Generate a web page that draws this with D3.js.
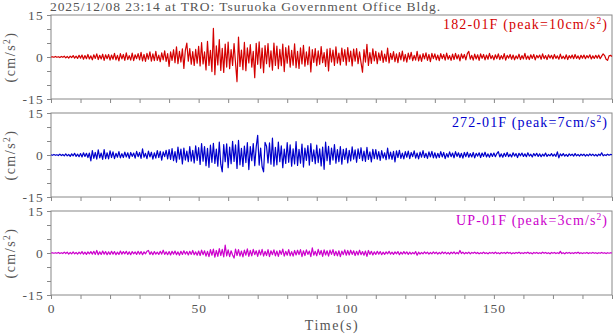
<!DOCTYPE html>
<html>
<head>
<meta charset="utf-8">
<script src="https://cdn.jsdelivr.net/npm/d3@7"></script>
<style>
  body { margin: 0; background: #fff; }
  text { font-family: "Liberation Serif", "DejaVu Serif", serif; }
</style>
</head>
<body>
<div id="chart"></div>
<script>
// acceleration (cm/s^2), one sample every 0.5 s from 0 to 190 s
const ns182 = [
  0.0, 0.1, -0.1, 0.2, -0.1, 0.1, -0.2, 0.2, -0.1, 0.3, -0.3, 0.2, -0.4, 0.3, -0.2, 0.5, -0.4, 0.3, -0.5, 0.6,
  -0.4, 0.7, -0.8, 0.5, -0.6, 0.9, -0.7, 0.4, -1.0, 0.8, -0.5, 1.1, -0.9, 0.6, -0.7, 1.0, -1.2, 0.8, -0.6, 0.9,
  -1.1, 0.7, -0.8, 1.3, -1.0, 0.6, -1.4, 1.2, -0.7, 0.9, -1.2, 1.5, -0.9, 0.5, -1.1, 1.4, -1.3, 0.8, -0.6, 1.2,
  -1.0, 1.7, -1.4, 0.9, -1.6, 1.3, -0.8, 1.8, -1.5, 1.1, -1.3, 2.0, -1.2, 0.7, -1.7, 1.5, -1.0, 2.2, -1.6, 1.2,
  -3.4, 1.8, -1.2, 2.6, -2.0, 3.6, -2.4, 2.0, -1.8, 2.9, -4.1, 2.4, 5.0, -1.5, 3.0, -2.6, 1.9, -3.0, 2.7, -2.2,
  3.8, -3.2, 5.1, -2.5, 1.8, -4.6, 5.6, -3.0, 2.4, -5.2, 10.2, -6.3, 4.0, -2.8, 6.2, -4.8, 3.1, -5.5, 4.6, -3.6,
  5.3, -4.2, 2.6, -3.0, 4.8, -2.2, -8.8, 7.1, -3.4, 2.5, -4.5, 5.2, -4.9, 3.3, -2.1, 4.4, -3.6, 2.0, -7.4, 4.9,
  -2.6, 5.4, -4.0, 3.2, -5.6, 4.1, -2.4, 4.8, -3.5, 2.2, -4.7, 5.0, -3.0, 3.9, -4.2, 2.7, -3.1, 4.6, -5.2, 3.4,
  -2.2, 4.0, -3.6, 2.4, -2.9, 4.7, -3.8, 2.0, -4.1, 3.3, -2.5, 4.2, -3.3, 1.8, -2.7, 3.6, -5.3, 2.6, -1.9, 3.0,
  -3.1, 2.2, -2.6, 3.7, -2.0, 1.6, -3.4, 2.8, -5.0, 3.1, -1.8, 2.5, -3.0, 3.6, -2.2, 1.4, -2.8, 3.2, -1.6, 2.6,
  -2.9, 3.4, -1.7, 2.1, -3.2, 2.8, -1.5, 3.0, -2.4, 1.8, -2.0, -5.4, 2.6, -1.8, 4.5, -3.0, 1.6, -2.3, 2.9, -1.4,
  2.0, -2.4, 1.5, -1.2, 2.2, -1.9, 1.0, -1.6, 3.2, -2.1, 1.3, -0.9, 1.9, -1.7, 1.1, -2.0, 1.6, -1.0, 2.1, -1.5,
  0.9, -1.8, 1.4, -0.8, 1.7, -1.3, 0.6, -1.1, 2.0, -1.4, 0.8, -1.6, 1.2, -0.7, 1.5, -1.2, 0.9, -1.7, 1.3, -0.6,
  1.1, -1.0, 0.7, -1.3, 1.2, -0.6, 0.9, -1.1, 1.4, -0.8, 0.5, -1.2, 1.0, -0.9, 1.3, -0.7, 0.8, -1.4, 1.1, -0.5,
  0.9, -1.0, 1.2, 2.0, -0.8, 0.6, -1.1, 1.0, -0.7, 0.8, -1.2, 1.1, -0.5, 0.9, -1.0, 0.7, -0.8, 1.3, -0.6, 0.5,
  -1.0, 0.8, -0.6, 1.1, -0.9, 0.5, -0.7, 1.2, -1.1, 0.6, -0.4, 0.9, -0.8, 0.7, -1.0, 0.4, -0.6, 1.0, -0.9, 0.5,
  -0.7, 1.3, -0.8, 0.4, -0.9, 0.8, -0.5, 0.9, -1.0, 0.6, -0.3, 0.7, -0.8, 1.1, -0.6, 0.5, -0.9, 0.8, -0.4, 0.6,
  -0.7, 0.9, -0.5, 0.4, -0.8, 1.0, -0.6, 0.3, -0.7, 0.8, -0.9, 0.5, -0.4, 0.7, -0.6, 0.9, -0.5, 0.4, -0.8, 0.6,
  -0.4, 0.7, -0.6, 0.5, -0.3, 0.8, -0.7, 0.4, -0.5, 0.6, -0.4, 0.7, -0.6, 0.3, 1.1, 0.5, -0.8, -1.2, 0.4, 0.6,
  0.2
];
const ew272 = [
  0.1, -0.1, 0.2, -0.1, 0.1, -0.2, 0.3, -0.2, 0.2, -0.3, 0.4, -0.3, 0.2, -0.5, 0.4, -0.3, 0.6, -0.5, 0.3, -0.6,
  0.5, -0.7, 0.8, -0.5, 0.6, -0.9, 0.7, -2.1, 1.6, -1.2, 0.9, -1.5, 1.8, -1.0, 0.7, -1.6, 1.9, -1.3, 0.8, -1.4,
  1.5, -0.9, 1.1, -1.3, 0.6, -0.8, 1.2, -1.0, 0.5, -0.9, 1.0, -0.7, 0.8, -1.2, 0.9, -0.5, 0.7, -1.1, 1.3, -0.6,
  0.9, -1.2, 2.2, -0.8, 0.6, -1.3, 1.4, -0.7, 1.0, -1.5, 0.8, -1.1, 1.6, -0.9, 1.3, -1.8, 1.1, -0.6, 1.7, -1.4,
  1.9, -1.6, 2.3, -2.0, 1.2, -2.6, 2.8, -1.5, 2.1, -3.2, 2.5, -1.8, 1.4, -2.4, 3.0, -2.2, 1.7, -2.8, 3.3, -1.9,
  2.6, -3.4, 4.1, -2.2, 3.0, -3.8, 2.4, -4.4, 3.5, -2.6, 4.2, -3.0, 2.1, -4.0, 4.6, -3.3, -6.0, 3.7, -2.4, 4.0,
  -4.5, 2.8, -3.1, 4.9, -2.3, 3.6, -4.8, 5.2, -3.5, 2.4, -4.1, 3.2, -2.7, 4.4, -5.2, 3.0, -2.0, 4.1, -3.8, 2.9,
  7.0, -3.6, 2.5, -4.2, -6.0, 4.5, 3.1, -2.8, 4.3, -3.3, 6.0, -4.0, 2.7, -3.5, 4.6, -2.4, 3.3, -4.5, 2.1, -3.0,
  4.4, -2.6, 3.6, -4.0, 2.2, -3.2, 4.8, -3.7, 2.0, -2.9, 3.9, -4.3, 2.5, -1.9, 3.4, -3.6, 4.1, -2.3, 1.8, -3.1,
  3.5, -2.7, 2.2, -3.9, 2.8, -5.1, 4.6, -2.0, 3.1, -3.4, 2.5, -1.8, 3.7, -2.9, 1.9, -2.4, 3.0, -3.3, 2.0, -1.6,
  2.4, -2.8, 1.7, -2.1, 2.9, -1.5, 1.8, -2.6, 2.2, -1.2, 2.6, -2.0, 1.4, -2.3, 2.7, -1.6, 1.1, -2.5, 2.0, -1.3,
  1.9, -1.5, 1.2, -1.9, 1.6, -1.1, 0.8, -1.7, 2.5, -1.4, 1.0, -1.6, 1.3, -2.5, 1.5, -0.9, 1.7, -1.2, 0.7, -1.4,
  1.2, -0.8, 1.4, -1.3, 0.9, -0.6, 1.5, -1.1, 0.7, -1.4, 1.0, -0.8, 1.6, -0.9, 0.6, -1.2, 1.1, -0.7, 1.3, -1.0,
  0.8, -1.1, 0.6, -0.9, 1.2, -0.7, 0.9, -1.3, 0.5, -0.8, 1.1, -0.6, 0.7, -1.0, 1.2, -0.5, 0.8, -0.9, 0.6, -1.1,
  0.9, -0.6, 1.0, -0.8, 0.5, -0.7, 0.9, -1.0, 0.6, -0.4, 0.8, -0.9, 0.7, -0.5, 1.0, -0.7, 0.4, -0.8, 0.6, -0.5,
  0.7, -0.6, 0.5, 1.2, -0.7, 0.4, -0.8, 0.6, -0.5, 0.9, -0.6, 0.3, -0.7, 0.8, -0.4, 0.5, -0.9, 0.6, -0.3, 0.7,
  -0.5, 0.4, -0.6, 0.8, -0.4, 0.3, -0.7, 0.5, -0.3, 0.6, -0.5, 0.4, -0.6, 0.3, -0.4, 0.7, -0.5, 0.2, -0.3, 0.5,
  -0.4, 0.3, -0.5, 1.1, -1.0, 0.4, -0.3, 0.5, -0.4, 0.2, -0.5, 0.4, -0.2, 0.3, -0.4, 0.5, -0.3, 0.2, -0.4, 0.3,
  -0.2, 0.3, -0.4, 0.2, -0.3, 0.4, -0.2, 0.3, -0.3, 0.2, -0.4, 0.3, -0.2, 0.8, -0.3, 0.1, -0.2, 0.3, -0.1, 0.2,
  0.1
];
const up = [
  0.0, 0.1, -0.1, 0.1, -0.1, 0.2, -0.2, 0.1, -0.2, 0.3, -0.2, 0.3, -0.4, 0.2, -0.3, 0.4, -0.3, 0.2, -0.4, 0.3,
  -0.3, 0.5, -0.4, 0.3, -0.5, 0.4, -0.3, 0.5, -0.4, 0.6, -0.5, 0.9, -0.6, 0.4, -0.5, 0.7, -0.4, 0.5, -0.6, 0.4,
  -0.5, 0.6, -0.4, 0.5, -0.6, 0.3, -0.5, 0.7, -0.4, 0.5, -0.3, 0.6, -0.5, 0.4, -0.6, 0.5, -0.3, 0.4, -0.5, 0.6,
  -0.4, 0.5, -0.6, 0.4, -0.3, 0.6, 0.9, -0.5, 0.4, -0.6, 0.5, -0.4, 0.3, -0.5, 0.6, -0.4, 1.0, -0.5, 0.4, -0.6,
  0.5, -0.7, 0.6, -0.4, 0.7, -0.6, 0.4, -0.8, 0.6, -0.5, 0.8, -0.4, 0.5, -0.7, 0.6, -0.5, 0.9, -0.6, 0.4, -0.8,
  0.7, -0.9, 1.0, -0.6, 0.8, -1.1, 0.6, -1.3, 1.2, -0.8, 1.4, -1.5, 0.9, -1.2, 1.6, -0.9, 1.3, -1.4, 2.8, -1.0,
  1.1, -1.3, 0.8, -0.7, -1.8, 1.4, -0.9, 1.2, -1.1, 0.7, -1.4, 1.0, -0.8, 1.5, -1.2, 0.9, -1.0, 1.3, -0.6, 0.8,
  -1.2, 1.0, -0.7, 1.3, -1.1, 0.6, -0.9, 1.2, -1.3, 0.8, -0.6, 1.1, -1.0, 0.7, -1.2, 0.9, -0.5, 1.4, -1.1, 0.6,
  -0.8, 1.2, -1.0, 0.5, -1.1, 0.9, -0.7, 1.0, -0.6, 1.2, -1.3, 0.8, -0.9, 1.1, -0.5, 0.7, -1.3, 1.8, -0.8, 0.6,
  -1.0, 1.3, -0.6, 0.9, -1.2, 1.1, -0.7, 0.8, -1.1, 1.0, -0.5, 1.2, -0.9, 0.6, -1.0, 0.8, -1.3, 0.7, -0.6, 1.1,
  -0.8, 0.9, -0.7, 1.0, -0.5, 0.8, -0.9, 0.6, -0.7, 1.0, -0.6, 0.5, -0.8, 0.7, -1.2, 0.9, -0.5, 0.6, -0.7, 0.4,
  -0.5, 0.6, -0.4, 0.5, -0.6, 0.3, -0.5, 0.4, -0.3, 0.6, -0.4, 0.3, -0.5, 0.4, -0.3, 0.5, -0.6, 0.3, -0.4, 0.5,
  -0.3, 0.4, -0.5, 0.3, -0.4, 0.2, -0.3, 0.5, -0.8, 0.3, -0.4, 0.2, -0.3, 0.4, -0.2, 0.3, -0.4, 0.2, -0.3, 0.4,
  -0.2, 0.3, -0.4, 0.2, -0.3, 0.4, -0.2, 0.3, -0.3, 0.2, -0.4, 0.3, -0.2, 0.4, -0.3, 0.2, -0.3, 0.9, -0.2, 0.3,
  -0.3, 0.2, -0.2, 0.3, -0.3, 0.2, -0.1, 0.3, -0.2, 0.2, -0.3, 0.1, -0.2, 0.3, -0.2, 0.1, -0.3, 0.2, -0.1, 0.2,
  -0.2, 0.3, -0.2, 0.1, -0.3, 0.2, -0.1, 0.2, -0.2, 0.3, -0.1, 0.2, -0.3, 0.1, -0.2, 0.2, -0.1, 0.3, -0.2, 0.1,
  -0.2, 0.2, -0.1, 0.3, -0.2, 0.1, -0.3, 0.2, -0.1, 0.2, -0.2, 0.1, -0.2, 0.3, -0.1, 0.2, -0.2, 0.1, -0.3, 0.2,
  -0.1, 0.2, -0.2, 0.1, -0.2, 0.6, -0.2, 0.1, -0.3, 0.2, -0.1, 0.2, -0.2, 0.1, -0.2, 0.2, -0.1, 0.3, -0.2, 0.1,
  -0.2, 0.1, -0.1, 0.2, -0.2, 0.1, -0.1, 0.2, -0.1, 0.1, -0.2, 0.1, -0.1, 0.2, -0.1, 0.1, -0.2, 0.1, -0.1, 0.1,
  0.0
];

const dt = 0.5;
const title = '2025/12/08 23:14 at TRO: Tsuruoka Government Office Bldg.';
const channels = ['182-01F', '272-01F', 'UP-01F'];
const peaks = [10, 7, 3];
const colors = ['#d40000', '#0000cc', '#cc00cc'];
const series = [ns182, ew272, up];
const xTicks = [0, 50, 100, 150];
const yTicks = [-15, 0, 15];
const labelWidths = [164, 155, 151];

const width = 613, height = 334;
const left = 51, right = 612;
const panelTop = 15, panelH = 84, panelStep = 98;
const grey = '#555';
const frameCol = '#888';

const svg = d3.select('#chart').append('svg')
  .attr('width', width)
  .attr('height', height);

const x = d3.scaleLinear().domain([0, 190]).range([left, right]);

svg.append('text')
  .attr('x', 50).attr('y', 11)
  .attr('fill', grey)
  .attr('font-size', 13.5)
  .attr('textLength', 390)
  .attr('lengthAdjust', 'spacing')
  .text(title);

series.forEach((vals, i) => {
  const top = panelTop + i * panelStep;
  const y = d3.scaleLinear().domain([-15, 15]).range([top + panelH, top]);

  // frame
  svg.append('rect')
    .attr('x', left).attr('y', top)
    .attr('width', right - left).attr('height', panelH)
    .attr('fill', 'none')
    .attr('stroke', frameCol)
    .attr('stroke-width', 1);

  const yAxis = svg.append('g')
    .attr('transform', `translate(${left},0)`)
    .call(d3.axisLeft(y).tickValues(d3.range(-15, 16, 5)).tickSize(4).tickFormat(d => yTicks.includes(d) ? d : ''));
  yAxis.select('.domain').remove();
  yAxis.selectAll('line').attr('stroke', frameCol);
  yAxis.selectAll('text')
    .attr('fill', grey)
    .attr('font-size', 13.5)
    .attr('font-family', '"Liberation Serif", serif')
    .attr('letter-spacing', 1.2)
    .attr('x', -7);

  const xAxis = svg.append('g')
    .attr('transform', `translate(0,${top + panelH})`)
    .call(d3.axisBottom(x).tickValues(d3.range(0, 191, 10)).tickSize(4)
      .tickFormat(d => (i == 2 && xTicks.includes(d)) ? d : ''));
  xAxis.select('.domain').remove();
  xAxis.selectAll('line').attr('stroke', frameCol);
  xAxis.selectAll('text')
    .attr('fill', grey)
    .attr('font-size', 13.5)
    .attr('font-family', '"Liberation Serif", serif')
    .attr('letter-spacing', 1)
    .attr('y', 8);

  // y title
  const yt = svg.append('text')
    .attr('transform', `translate(15,${top + panelH / 2}) rotate(-90)`)
    .attr('text-anchor', 'middle')
    .attr('fill', grey)
    .attr('font-size', 14)
    .attr('letter-spacing', 1.5);
  yt.append('tspan').text('(cm/s');
  yt.append('tspan').attr('font-size', 9.5).attr('dy', -5).text('2');
  yt.append('tspan').attr('dy', 5).text(')');

  const line = d3.line()
    .x((d, j) => x(j * dt))
    .y(d => y(d));

  svg.append('path')
    .datum(vals)
    .attr('fill', 'none')
    .attr('stroke', colors[i])
    .attr('stroke-width', 1.2)
    .attr('stroke-linejoin', 'round')
    .attr('d', line);

  const lab = svg.append('text')
    .attr('x', 607).attr('y', top + 14)
    .attr('text-anchor', 'end')
    .attr('fill', colors[i])
    .attr('font-size', 14)
    .attr('textLength', labelWidths[i])
    .attr('lengthAdjust', 'spacing');
  lab.append('tspan').text(`${channels[i]} (peak=${peaks[i]}cm/s`);
  lab.append('tspan').attr('font-size', 9.5).attr('dy', -5).text('2');
  lab.append('tspan').attr('dy', 5).text(')');
});

svg.append('text')
  .attr('x', 332).attr('y', 330)
  .attr('text-anchor', 'middle')
  .attr('fill', grey)
  .attr('font-size', 14)
  .attr('letter-spacing', 1.5)
  .text('Time(s)');
</script>
</body>
</html>
